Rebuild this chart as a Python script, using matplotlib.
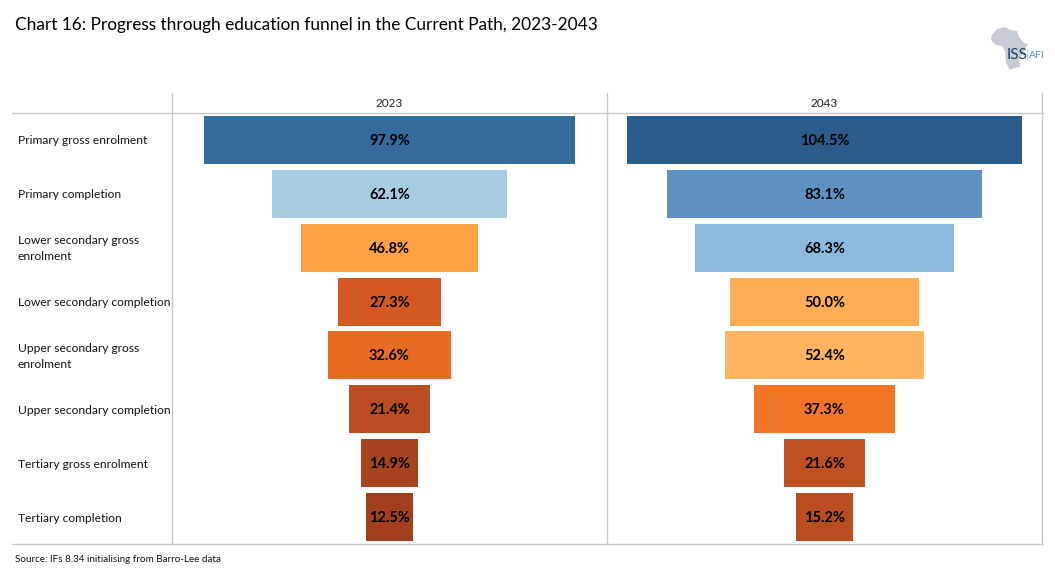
#!/usr/bin/env python3
"""Education funnel chart, 2023 and 2043, drawn as two centred bar panels."""

import matplotlib
matplotlib.use('Agg')
import matplotlib.pyplot as plt
import numpy as np
from matplotlib.patches import Polygon

plt.rcParams['font.family'] = ['Lato', 'DejaVu Sans']

categories = ['Primary gross enrolment', 'Primary completion',
              'Lower secondary gross\nenrolment', 'Lower secondary completion',
              'Upper secondary gross\nenrolment', 'Upper secondary completion',
              'Tertiary gross enrolment', 'Tertiary completion']
values_2023 = [97.9, 62.1, 46.8, 27.3, 32.6, 21.4, 14.9, 12.5]
values_2043 = [104.5, 83.1, 68.3, 50.0, 52.4, 37.3, 21.6, 15.2]
years = ['2023', '2043']

colors_2023 = ['#366B9E', '#A6CCE0', '#FCA244', '#D25A22',
               '#E86B22', '#B84D22', '#A8431F', '#A23F1F']
colors_2043 = ['#2B5C8C', '#5E92C2', '#8ABBDD', '#FDAE55',
               '#FEB45F', '#F07525', '#BE5124', '#B84D22']

W, H = 1055, 584
GRID = '#C8C8C8'


def panel(fig, left, right, values, colors, year):
    ax = fig.add_axes([left / W, 1 - 544 / H, (right - left) / W, (544 - 113) / H])
    y = np.arange(len(values))
    ax.barh(y, values, left=-np.array(values) / 2, height=0.89, color=colors)
    for yi, v in zip(y, values):
        ax.annotate(f'{v:.1f}%', xy=(0, yi), xytext=(0, -1), textcoords='offset pixels',
                    ha='center', va='center', fontsize=10.5,
                    fontweight='bold', color='black')
    ax.set_xlim(-57.5, 57.5)
    ax.set_ylim(len(values) - 0.5, -0.5)
    ax.axis('off')
    fig.text((left + right) / 2 / W, 1 - 103.5 / H, year, ha='center', va='center',
             fontsize=8.5, color='#222222')


fig = plt.figure(figsize=(W / 100, H / 100), dpi=100)

# overlay in pixel coordinates for rules and logo
bg = fig.add_axes([0, 0, 1, 1])
bg.set_xlim(0, W)
bg.set_ylim(H, 0)
bg.axis('off')
bg.plot([12, 1043], [113, 113], color=GRID, lw=1)
bg.plot([12, 1043], [544, 544], color=GRID, lw=1)
for x in [172, 607, 1042]:
    bg.plot([x, x], [93, 544], color=GRID, lw=1)

# ISS logo
africa = [(992, 35), (997, 29), (1005, 27), (1010, 30), (1017, 31), (1019, 37),
          (1024, 43), (1028, 44), (1023, 53), (1019, 59), (1020, 67), (1014, 68),
          (1010, 70), (1006, 63), (1005, 51), (1002, 46), (996, 45), (991, 40)]
bg.add_patch(Polygon(africa, closed=True, color='#C5CCD6', lw=0))
bg.text(1006.5, 55, 'ISS', fontsize=11, color='#1F3F66', va='center', ha='left')
bg.text(1026, 55, '|', fontsize=8, color='#9DB8D0', va='center', ha='left')
bg.text(1029, 55, 'AFI', fontsize=7.5, color='#5B93C4', va='center', ha='left')

panel(fig, 172, 607, values_2023, colors_2023, years[0])
panel(fig, 607, 1042, values_2043, colors_2043, years[1])

row_h = (544 - 113) / len(categories)
for i, cat in enumerate(categories):
    fig.text(18 / W, 1 - (114 + row_h * (i + 0.5)) / H, cat, ha='left', va='center',
             fontsize=8.65, color='#111111', linespacing=1.6)

fig.text(15 / W, 1 - 25 / H, 'Chart 16: Progress through education funnel in the Current Path, 2023-2043',
         ha='left', va='center', fontsize=12.45, color='black')
fig.text(15 / W, 1 - 560 / H, 'Source: IFs 8.34 initialising from Barro-Lee data',
         ha='left', va='center', fontsize=7.15, color='#111111')

plt.savefig('out.png', dpi=100)
plt.close()
